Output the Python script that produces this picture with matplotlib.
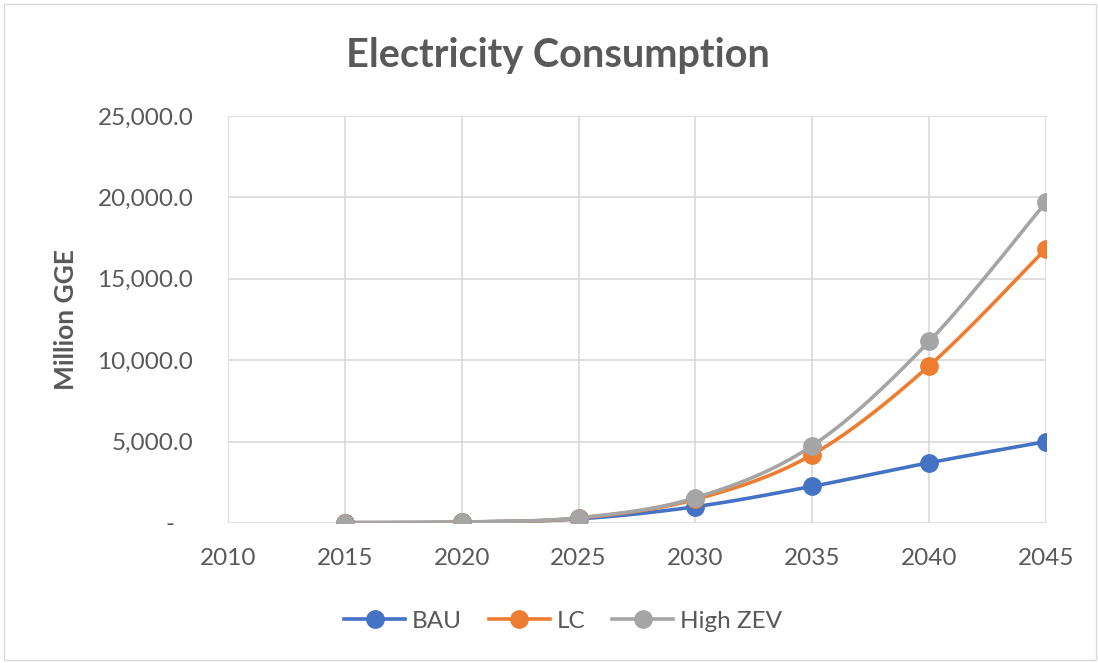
import numpy as np
import matplotlib.pyplot as plt
from matplotlib.patches import Rectangle
from matplotlib.ticker import FuncFormatter

plt.rcParams['font.family'] = ['Lato', 'DejaVu Sans']

years = [2015, 2020, 2025, 2030, 2035, 2040, 2045]
bau = [20, 50, 250, 1000, 2250, 3700, 5000]
lc = [20, 50, 300, 1450, 4200, 9650, 16850]
high_zev = [20, 60, 320, 1550, 4750, 11150, 19700]

series = [('BAU', bau, '#4472C4'), ('LC', lc, '#ED7D31'), ('High ZEV', high_zev, '#A5A5A5')]


def smooth(x, y, n=30):
    # Catmull-Rom style curve, like Excel's "smoothed line"
    x = np.asarray(x, float)
    y = np.asarray(y, float)
    px = np.concatenate([[x[0]], x, [x[-1]]])
    py = np.concatenate([[y[0]], y, [y[-1]]])
    xs, ys = [], []
    t = np.linspace(0, 1, n)
    for i in range(1, len(px) - 2):
        p0, p1, p2, p3 = [np.array([px[j], py[j]]) for j in range(i - 1, i + 3)]
        c1 = p1 + (p2 - p0) / 6
        c2 = p2 - (p3 - p1) / 6
        pts = ((1 - t) ** 3)[:, None] * p1 + (3 * (1 - t) ** 2 * t)[:, None] * c1 \
            + (3 * (1 - t) * t ** 2)[:, None] * c2 + (t ** 3)[:, None] * p2
        xs.extend(pts[:, 0])
        ys.extend(pts[:, 1])
    return xs, ys


fig = plt.figure(figsize=(10.98, 6.63), dpi=100)
fig.patches.append(Rectangle((0.004, 0.004), 0.994, 0.99, transform=fig.transFigure,
                             fill=False, edgecolor='#D9D9D9', linewidth=1))
ax = fig.add_axes([0.2077, 0.2112, 0.7449, 0.6138])

for name, vals, color in series:
    sx, sy = smooth(years, vals)
    ax.plot(sx, sy, color=color, linewidth=2.6, zorder=3)
    ax.plot(years, vals, 'o', color=color, markersize=12.5, zorder=4)
    ax.plot([], [], '-o', color=color, linewidth=2.6, markersize=12.5, label=name)

ax.set_xlim(2010, 2045)
ax.set_ylim(0, 25000)
ax.set_xticks(range(2010, 2046, 5))
ax.set_yticks(range(0, 25001, 5000))
# Excel accounting style: zero shown as a dash
ax.yaxis.set_major_formatter(FuncFormatter(lambda v, p: '-   ' if v == 0 else f'{v:,.1f}'))
ax.grid(True, color='#D9D9D9', linewidth=1.2)
ax.set_axisbelow(True)
for s in ax.spines.values():
    s.set_visible(False)
ax.tick_params(length=0, labelsize=17.5, labelcolor='#595959')
ax.tick_params(axis='x', pad=18)
ax.tick_params(axis='y', pad=25)

ax.set_ylabel('Million GGE', fontsize=19, fontweight='bold', color='#595959', labelpad=14)
fig.text(0.508, 0.917, 'Electricity Consumption', ha='center', va='center',
         fontsize=28.5, fontweight='bold', color='#595959')

fig.legend(loc='center', bbox_to_anchor=(0.513, 0.063), ncol=3, frameon=False,
           fontsize=17.5, labelcolor='#595959', handlelength=2.5, columnspacing=1.1,
           handletextpad=0.3)

fig.savefig('out.png', dpi=100)
